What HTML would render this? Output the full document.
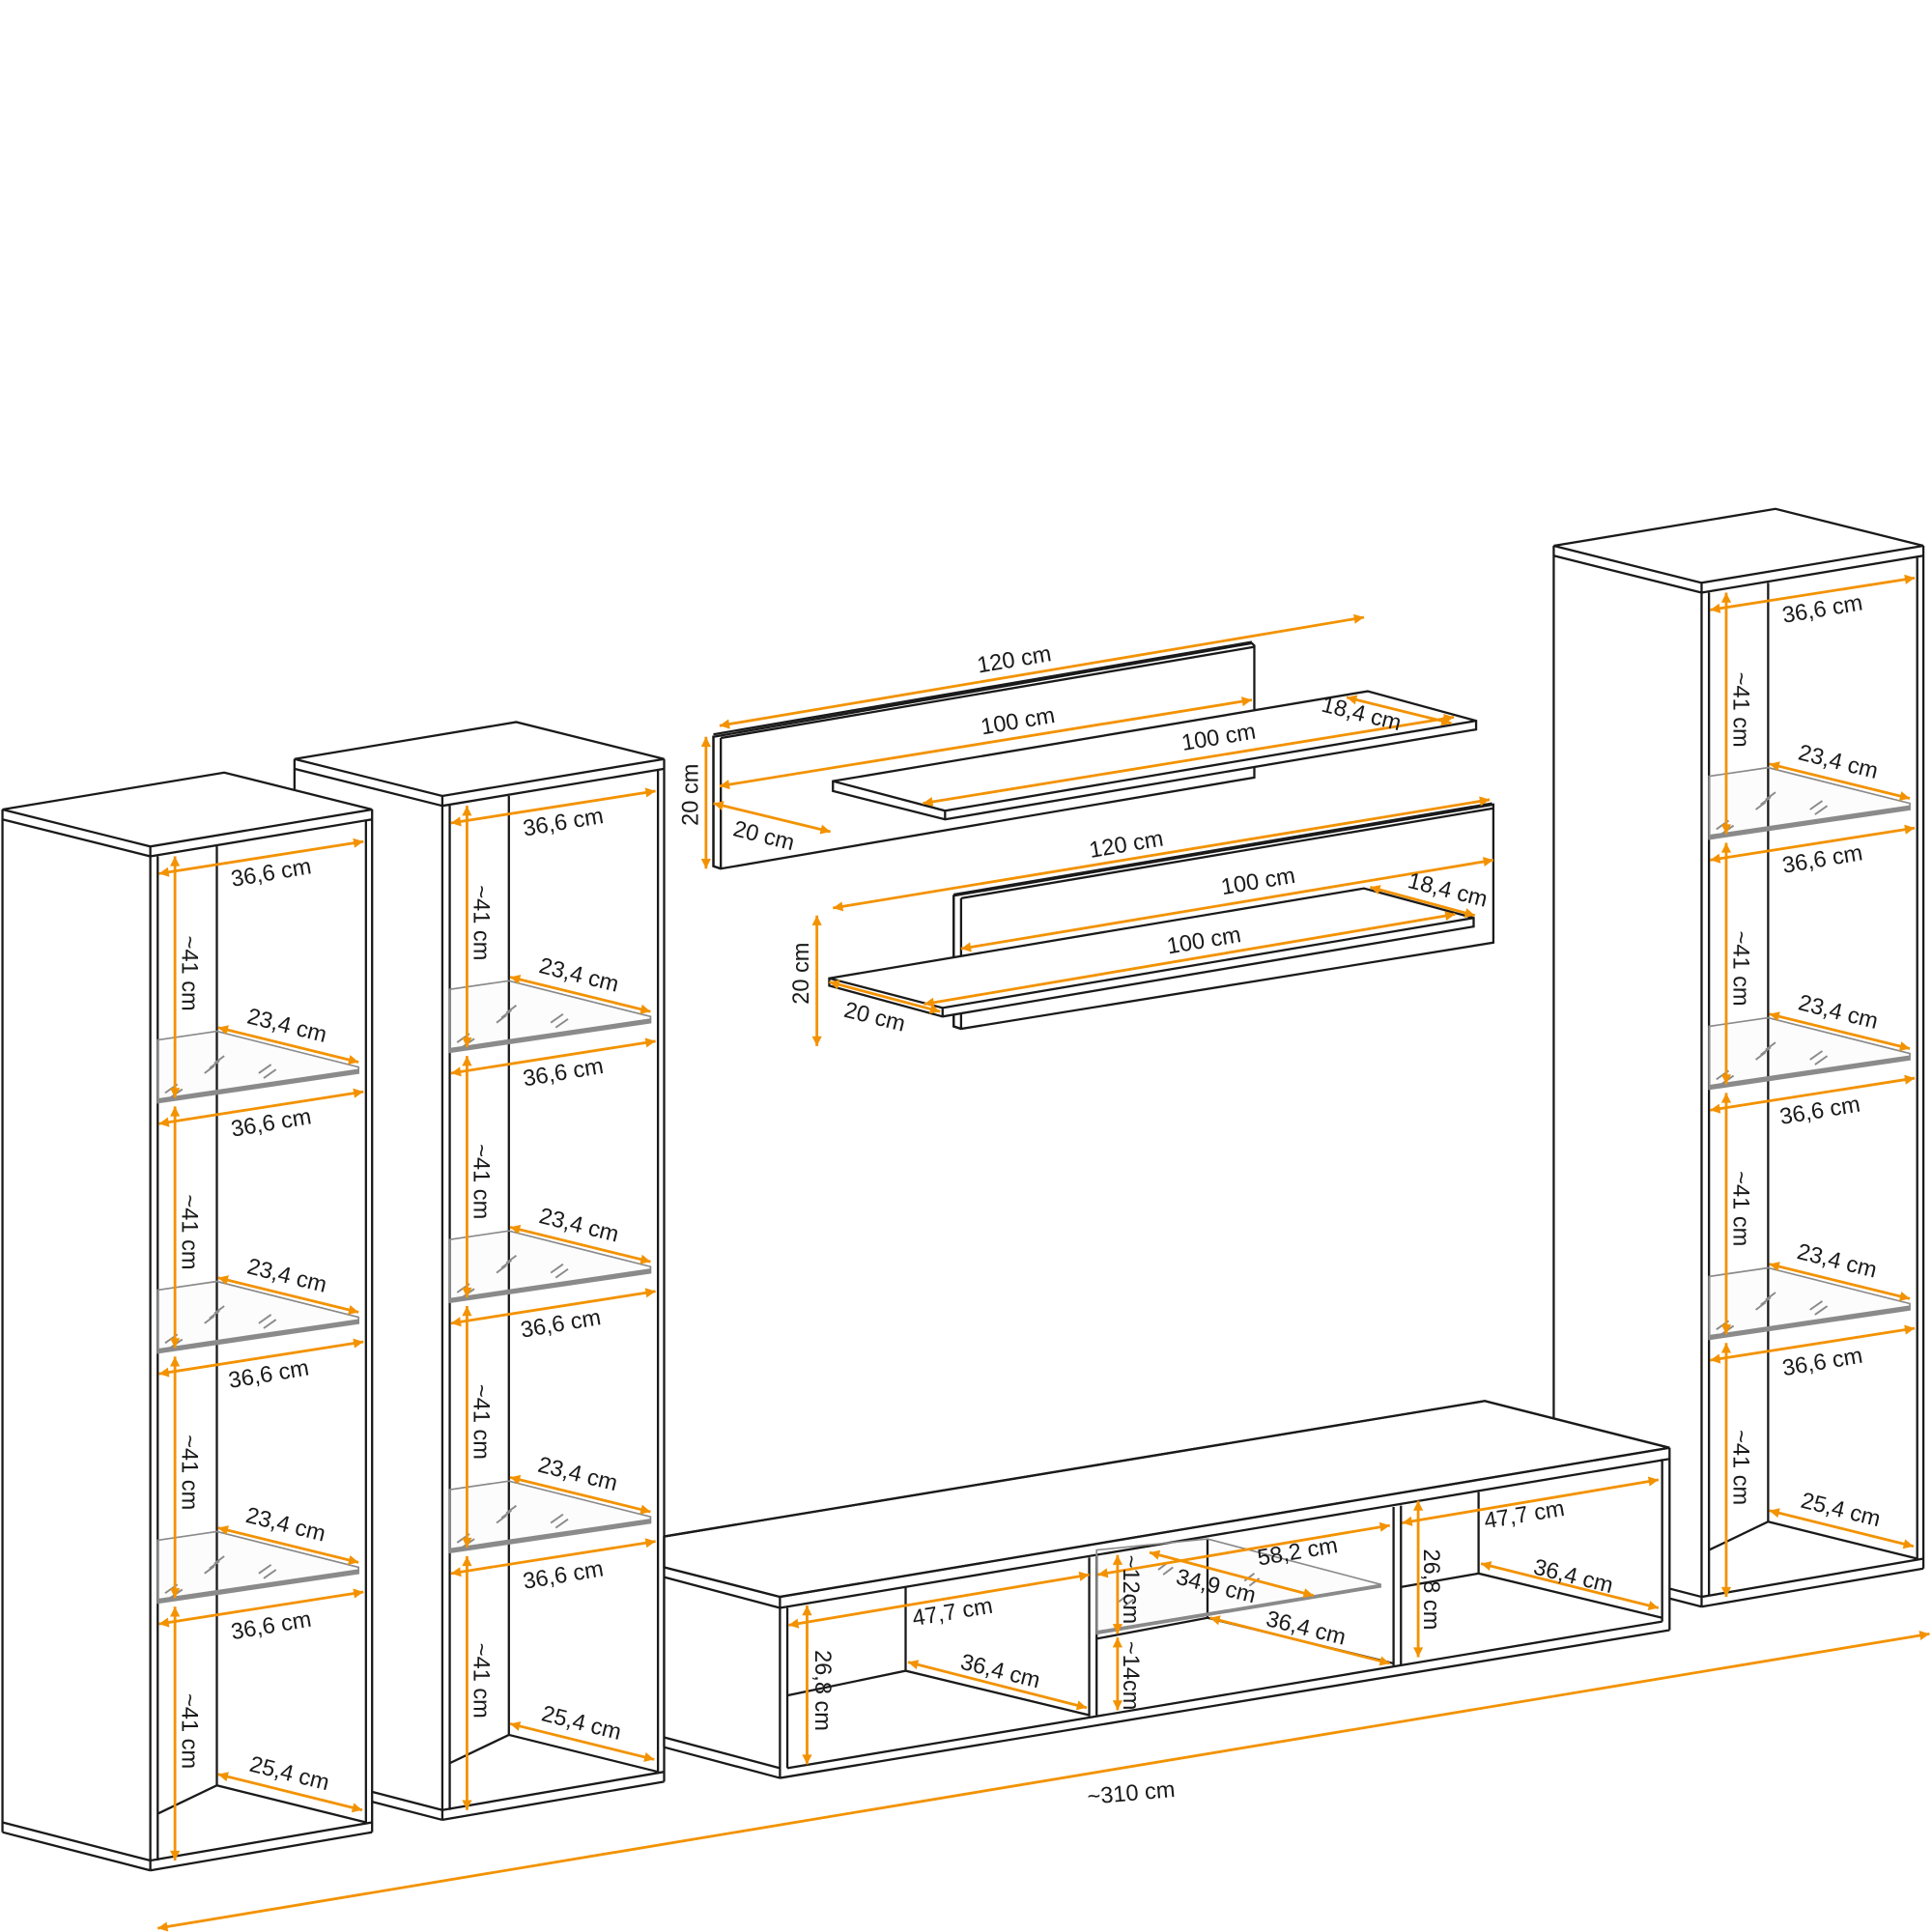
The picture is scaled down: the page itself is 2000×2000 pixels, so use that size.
<!DOCTYPE html>
<html><head><meta charset="utf-8"><style>
html,body{margin:0;padding:0;background:#fff;}
svg{display:block;}
text{font-family:"Liberation Sans",sans-serif;font-size:18.5px;fill:#1a1a1a;text-anchor:middle;dominant-baseline:central;}
.k{stroke:#1a1a1a;stroke-width:1.8;fill:none;stroke-linejoin:miter;}
.w{stroke:#1a1a1a;stroke-width:1.8;fill:#fff;}
.o{stroke:#f39200;stroke-width:2.2;fill:none;marker-start:url(#ah);marker-end:url(#ah);}
.g{stroke:#8a8a8a;stroke-width:1.5;fill:none;}
.gt{stroke:#8a8a8a;stroke-width:3;fill:none;}
</style></head><body>
<svg width="2000" height="2000" viewBox="0 0 1568 1568" xmlns="http://www.w3.org/2000/svg">
<defs>
<marker id="ah" viewBox="0 0 10 10" refX="10" refY="5" markerWidth="11" markerHeight="8" markerUnits="userSpaceOnUse" orient="auto-start-reverse"><path d="M0,0 L10,5 L0,10 z" fill="#f39200"/></marker>
<g id="tw">
<polygon points="-120,-30 60,-60 180,-30 180,800 0,831 -120,800" fill="#fff"/>
<polygon class="w" points="-120,-30 60,-60 180,-30 0,0"/>
<path class="k" d="M-120,-30V800 M-120,-22L0,8 M0,0V831 M6,8V823 M180,-30V800 M175,-22V792 M0,8L180,-22 M-120,792L0,823 M-120,800L0,831 M0,823L180,792 M0,831L180,800 M54,0V762 M6,785L54,762L175,792"/>
<g id="gs">
<polygon points="6,157 54,150 169,179 169,184 6,208" fill="rgba(0,0,0,0.012)" stroke="#8a8a8a" stroke-width="1.3"/>
<path class="gt" d="M6,206L169,182"/>
<path class="g" d="M48,180l8,-6 M44,184l8,-6 M52,176l8,-6 M88,184l10,-7 M92,188l10,-7 M12,200l10,-7 M16,204l10,-7"/>
</g>
<use href="#gs" y="203"/><use href="#gs" y="406"/>
</g>
<g id="ta">
<line class="o" x1="7" y1="22" x2="173" y2="-4"/>
<line class="o" x1="7" y1="225" x2="173" y2="199"/>
<line class="o" x1="7" y1="428" x2="173" y2="402"/>
<line class="o" x1="7" y1="631" x2="173" y2="605"/>
<line class="o" x1="55" y1="147" x2="169" y2="175"/>
<line class="o" x1="55" y1="350" x2="169" y2="378"/>
<line class="o" x1="55" y1="553" x2="169" y2="581"/>
<line class="o" x1="55" y1="753" x2="172" y2="782"/>
<line class="o" x1="20" y1="8" x2="20" y2="204"/>
<line class="o" x1="20" y1="211" x2="20" y2="407"/>
<line class="o" x1="20" y1="414" x2="20" y2="610"/>
<line class="o" x1="20" y1="617" x2="20" y2="823"/>
</g>
</defs>

<!-- Tower B -->
<g transform="translate(359,646)">
<use href="#tw"/><use href="#ta"/>
<text transform="translate(98,21) rotate(-9.5)">36,6 cm</text>
<text transform="translate(98,224) rotate(-9.5)">36,6 cm</text>
<text transform="translate(96,428) rotate(-9.5)">36,6 cm</text>
<text transform="translate(98,632) rotate(-9.5)">36,6 cm</text>
<text transform="translate(111,145) rotate(14)">23,4 cm</text>
<text transform="translate(111,348) rotate(14)">23,4 cm</text>
<text transform="translate(110,550) rotate(14)">23,4 cm</text>
<text transform="translate(113,752) rotate(14)">25,4 cm</text>
<text transform="translate(32,103) rotate(90)">~41 cm</text>
<text transform="translate(32,313) rotate(90)">~41 cm</text>
<text transform="translate(32,508) rotate(90)">~41 cm</text>
<text transform="translate(32,718) rotate(90)">~41 cm</text>
</g>
<!-- Tower A -->
<g transform="translate(122,687)">
<use href="#tw"/><use href="#ta"/>
<text transform="translate(98,21) rotate(-9.5)">36,6 cm</text>
<text transform="translate(98,224) rotate(-9.5)">36,6 cm</text>
<text transform="translate(96,428) rotate(-9.5)">36,6 cm</text>
<text transform="translate(98,632) rotate(-9.5)">36,6 cm</text>
<text transform="translate(111,145) rotate(14)">23,4 cm</text>
<text transform="translate(111,348) rotate(14)">23,4 cm</text>
<text transform="translate(110,550) rotate(14)">23,4 cm</text>
<text transform="translate(113,752) rotate(14)">25,4 cm</text>
<text transform="translate(32,103) rotate(90)">~41 cm</text>
<text transform="translate(32,313) rotate(90)">~41 cm</text>
<text transform="translate(32,508) rotate(90)">~41 cm</text>
<text transform="translate(32,718) rotate(90)">~41 cm</text>
</g>
<!-- Tower D -->
<g transform="translate(1381,473)">
<use href="#tw"/><use href="#ta"/>
<text transform="translate(98,21) rotate(-9.5)">36,6 cm</text>
<text transform="translate(98,224) rotate(-9.5)">36,6 cm</text>
<text transform="translate(96,428) rotate(-9.5)">36,6 cm</text>
<text transform="translate(98,632) rotate(-9.5)">36,6 cm</text>
<text transform="translate(111,145) rotate(14)">23,4 cm</text>
<text transform="translate(111,348) rotate(14)">23,4 cm</text>
<text transform="translate(110,550) rotate(14)">23,4 cm</text>
<text transform="translate(113,752) rotate(14)">25,4 cm</text>
<text transform="translate(32,103) rotate(90)">~41 cm</text>
<text transform="translate(32,313) rotate(90)">~41 cm</text>
<text transform="translate(32,508) rotate(90)">~41 cm</text>
<text transform="translate(32,718) rotate(90)">~41 cm</text>
</g>

<!-- TV unit -->
<polygon class="w" points="539,1247 1205,1137 1355,1175 633,1296 539,1272"/>
<polygon points="539,1273 633,1297 633,1443 539,1418" fill="#fff"/>
<polygon points="633,1297 1355,1176 1355,1323 633,1443" fill="#fff"/>
<path class="k" d="M539,1247L1205,1137L1355,1175 M539,1272L633,1296 M539,1280L633,1305 M539,1410L633,1435 M539,1418L633,1443 M633,1296V1443 M639,1305V1435 M633,1296L1355,1175 M633,1305L1355,1184 M639,1435L1349,1316 M633,1443L1355,1323 M1355,1175V1323 M1349,1184V1316 M539,1247V1418"/>
<path class="k" d="M884,1264V1393 M890,1263V1392 M1131,1223V1352 M1137,1222V1351"/>
<path class="k" d="M735,1288V1356 M639,1376L735,1356L884,1392 M1200,1211V1277 M1137,1288L1200,1277L1349,1313 M980,1249V1313 M890,1330L980,1313L1131,1350"/>
<polygon points="890,1258 980,1249 1121,1286 890,1326" fill="rgba(0,0,0,0.012)" stroke="#8a8a8a" stroke-width="1.3"/>
<path class="gt" d="M890,1325L1121,1287"/>
<path class="g" d="M940,1274l8,-6 M944,1278l8,-6 M1010,1283l8,-6 M1014,1287l8,-6 M908,1300l8,-6 M912,1304l8,-6"/>
<line class="o" x1="640" y1="1319" x2="884" y2="1278"/>
<line class="o" x1="655" y1="1303" x2="655" y2="1432"/>
<line class="o" x1="737" y1="1349" x2="882" y2="1386"/>
<line class="o" x1="907" y1="1262" x2="907" y2="1326"/>
<line class="o" x1="907" y1="1329" x2="907" y2="1388"/>
<line class="o" x1="891" y1="1278" x2="1128" y2="1238"/>
<line class="o" x1="933" y1="1260" x2="1066" y2="1295"/>
<line class="o" x1="982" y1="1313" x2="1128" y2="1350"/>
<line class="o" x1="1151" y1="1218" x2="1151" y2="1345"/>
<line class="o" x1="1138" y1="1236" x2="1346" y2="1201"/>
<line class="o" x1="1202" y1="1269" x2="1346" y2="1305"/>
<text transform="translate(773,1308) rotate(-9.5)">47,7 cm</text>
<text transform="translate(668,1372) rotate(90)">26,8 cm</text>
<text transform="translate(812,1356) rotate(14)">36,4 cm</text>
<text transform="translate(918,1290) rotate(90)">~12cm</text>
<text transform="translate(918,1360) rotate(90)">~14cm</text>
<text transform="translate(1053,1259) rotate(-9.5)">58,2 cm</text>
<text transform="translate(987,1287) rotate(14)">34,9 cm</text>
<text transform="translate(1060,1321) rotate(14)">36,4 cm</text>
<text transform="translate(1162,1290) rotate(90)">26,8 cm</text>
<text transform="translate(1237,1229) rotate(-9.5)">47,7 cm</text>
<text transform="translate(1277,1279) rotate(14)">36,4 cm</text>

<!-- overall -->
<line class="o" x1="128" y1="1565" x2="1566" y2="1326"/>
<text transform="translate(918,1455) rotate(-5)">~310 cm</text>

<!-- Upper wall shelf -->
<polygon class="w" points="579,598 1016,522 1018,524 1018,631 585,705 579,703"/>
<path class="k" d="M579,596L1016,521 M585,599L1018,525 M585,599V705 M579,597V703L585,705"/>
<polygon class="w" points="676,634 1110,561 1198,585 1198,592 767,665 676,642"/>
<path class="k" d="M676,634L767,658L1198,585 M767,658V665"/>
<line class="o" x1="584" y1="589" x2="1107" y2="501"/>
<line class="o" x1="584" y1="638" x2="1016" y2="568"/>
<line class="o" x1="573" y1="598" x2="573" y2="705"/>
<line class="o" x1="579" y1="652" x2="674" y2="675"/>
<line class="o" x1="749" y1="652" x2="1180" y2="582"/>
<line class="o" x1="1093" y1="566" x2="1178" y2="587"/>
<text transform="translate(823,535) rotate(-9.5)">120 cm</text>
<text transform="translate(826,585) rotate(-9.5)">100 cm</text>
<text transform="translate(560,645) rotate(-90)">20 cm</text>
<text transform="translate(620,678) rotate(14)">20 cm</text>
<text transform="translate(989,598) rotate(-9.5)">100 cm</text>
<text transform="translate(1105,579) rotate(14)">18,4 cm</text>

<!-- Lower wall shelf -->
<polygon class="w" points="774,727 1212,653 1212,765 780,835 774,833"/>
<path class="k" d="M774,726L1211,652 M780,729L1212,656 M780,729V835 M774,727V833L780,835"/>
<polygon class="w" points="673,794 1107,721 1196,745 1196,752 765,825 673,800"/>
<path class="k" d="M673,794L765,818L1196,745 M765,818V825"/>
<line class="o" x1="676" y1="737" x2="1209" y2="649"/>
<line class="o" x1="780" y1="770" x2="1212" y2="698"/>
<line class="o" x1="1112" y1="720" x2="1197" y2="743"/>
<line class="o" x1="750" y1="815" x2="1181" y2="742"/>
<line class="o" x1="663" y1="743" x2="663" y2="849"/>
<line class="o" x1="673" y1="797" x2="763" y2="821"/>
<text transform="translate(914,685) rotate(-9.5)">120 cm</text>
<text transform="translate(1021,715) rotate(-9.5)">100 cm</text>
<text transform="translate(1175,722) rotate(14)">18,4 cm</text>
<text transform="translate(977,763) rotate(-9.5)">100 cm</text>
<text transform="translate(650,790) rotate(-90)">20 cm</text>
<text transform="translate(710,825) rotate(14)">20 cm</text>
</svg>
</body></html>
